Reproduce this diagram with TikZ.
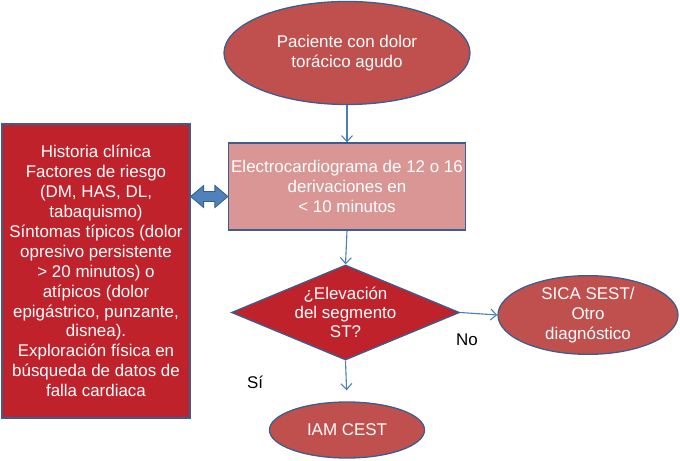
\documentclass[tikz,border=0pt]{standalone}
\usepackage{fontspec}
\setmainfont{Liberation Sans}
\usetikzlibrary{shapes.geometric,calc,arrows.meta}
\definecolor{ellred}{HTML}{C0504D}
\definecolor{darkred}{HTML}{C0222B}
\definecolor{pinkbox}{HTML}{D99694}
\definecolor{bordblue}{HTML}{3A5F8F}
\definecolor{arrblue}{HTML}{4A7EBB}
\definecolor{fillblue}{HTML}{4F81BD}
\begin{document}
\begin{tikzpicture}[x=1bp,y=-1bp,
 txt/.style={text=white,font=\fontsize{17}{20}\selectfont,align=center},
 lbl/.style={text=black,font=\fontsize{17}{20}\selectfont},
 ell/.style={ellipse,draw=bordblue,line width=1.3bp,fill=ellred,inner sep=0pt,txt},
 boxst/.style={rectangle,draw=bordblue,line width=1.3bp,inner sep=0pt,txt},
 conn/.style={draw=arrblue,line width=1.1bp,-{Straight Barb[length=6bp,width=11bp]}}
]
\useasboundingbox (0,0) rectangle (680,461);
\node[ell,minimum width=246bp,minimum height=103bp] (start) at (347,53) {Paciente con dolor\\torácico agudo};
\node[boxst,fill=pinkbox,minimum width=237bp,minimum height=87bp] (ecg) at (347,186.5) {Electrocardiograma de 12 o 16\\derivaciones en\\< 10 minutos};
\node[boxst,fill=darkred,minimum width=188bp,minimum height=294bp] (left) at (96,271) {Historia clínica\\Factores de riesgo\\(DM, HAS, DL,\\tabaquismo)\\Síntomas típicos (dolor\\opresivo persistente\\> 20 minutos) o\\atípicos (dolor\\epigástrico, punzante,\\disnea).\\Exploración física en\\búsqueda de datos de\\falla cardiaca};
\node[diamond,draw=bordblue,line width=1.3bp,fill=darkred,inner sep=0pt,minimum width=228bp,minimum height=95bp,
  label={[txt,font=\fontsize{17}{19}\selectfont]center:{¿Elevación\\del segmento\\ST?}}] (dia) at (345.5,312.5) {};
\node[ell,minimum width=180bp,minimum height=75bp] (sica) at (588,315) {SICA SEST/\\Otro\\diagnóstico};
\node[ell,minimum width=155bp,minimum height=56bp] (iam) at (347,430) {IAM CEST};
\node[lbl] (no) at (467,340) {No};
\node[lbl] (si) at (255,382) {Sí};
\draw[conn] (start.south) -- (ecg.north);
\draw[conn] (ecg.south) -- (dia.north);
\draw[conn,shorten >=11bp] (dia.south) -- (iam.north);
\draw[conn] (dia.east) -- (sica.west);
\coordinate (dal) at ($(left.east |- ecg.west)+(0,10)$);
\coordinate (dar) at ($(ecg.west)+(0,10)$);
\draw[fill=fillblue,draw=bordblue,line width=0.9bp,line join=miter]
 (dal) -- ++(13,-11) -- ++(0,6) -- ($(dar)+(-13,-5)$) -- ++(0,-6) -- (dar)
 -- ++(-13,11) -- ++(0,-6) -- ($(dal)+(13,5)$) -- ++(0,6) -- cycle;
\end{tikzpicture}
\end{document}
